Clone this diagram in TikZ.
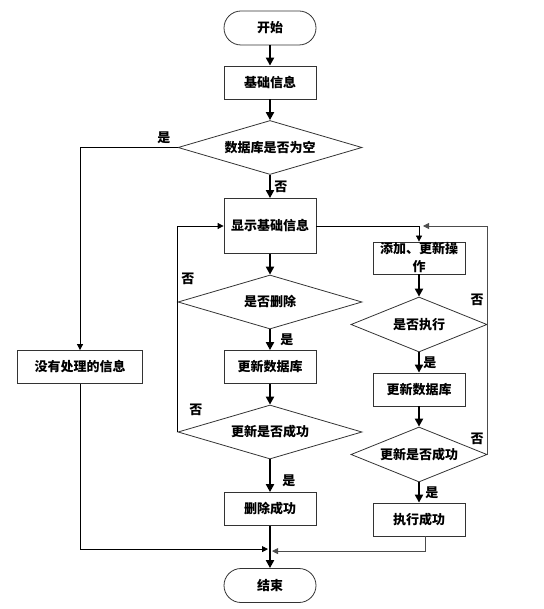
\documentclass[tikz,border=0pt]{standalone}
\usepackage{fontspec}
\newfontfamily\cjk{Noto Sans CJK SC}
\usetikzlibrary{arrows.meta,shapes.geometric}

\begin{document}
\begin{tikzpicture}[>={Triangle[length=8pt,width=8pt]}, node distance=65pt, font=\cjk\bfseries\fontsize{13pt}{18pt}\selectfont]
		\tikzstyle{term} = [draw=black!80, line width=0.8pt, rounded corners=17pt, minimum width=92pt, minimum height=34pt, inner sep=0pt]
		\tikzstyle{proc} = [draw=black!80, line width=0.8pt, minimum width=92pt, minimum height=33pt, inner sep=0pt]
		\tikzstyle{decide} = [draw=black!80, line width=0.8pt, diamond, aspect=3.4, minimum width=184pt, minimum height=54pt, inner sep=0pt]
		\tikzstyle{flow} = [->, line width=2.2pt]
		\tikzstyle{back} = [-{Triangle[length=6pt,width=6pt]}, line width=0.8pt]

		\useasboundingbox (0,0) rectangle (543pt,-609pt);

		\path
		node[term] (start) at (270pt,-28pt) {开始}
		node[proc, below of=start, yshift=10.5pt] (base) {基础信息}
		node[decide, below of=base] (empty) {数据库是否为空}
		node[proc, minimum height=55pt, below of=empty, yshift=-13.5pt] (show) {显示基础信息}
		node[decide, below of=show, yshift=-11pt] (askdel) {是否删除}
		node[proc, below of=askdel] (upd) {更新数据库}
		node[decide, below of=upd] (updok) {更新是否成功}
		node[proc, below of=updok, yshift=-12pt] (delok) {删除成功}
		node[term, below of=delok, yshift=-11.5pt] (stop) {结束}
		node[proc, minimum width=125pt, left of=upd, xshift=-125pt] (none) {没有处理的信息}
		node[proc, minimum height=32pt, align=center, right of=show, xshift=84pt, yshift=-32pt] (edit) {添加、更新操\\作}
		node[decide, minimum width=136pt, minimum height=55pt, below of=edit, yshift=-1.5pt] (exec) {是否执行}
		node[proc, below of=exec] (upd2) {更新数据库}
		node[decide, minimum width=136pt, minimum height=55pt, below of=upd2] (updok2) {更新是否成功}
		node[proc, below of=updok2] (execok) {执行成功}
		;

		\coordinate (joinl) at ([xshift=-2pt,yshift=19pt]stop.north);
		\coordinate (joinr) at ([xshift=2pt,yshift=17pt]stop.north);

		% main column
		\draw[flow] (start) -- (base);
		\draw[flow] (base) -- (empty);
		\draw[flow] (empty) -- node[right]{否} (show);
		\draw[flow] (show) -- (askdel);
		\draw[flow] (askdel) -- node[right, xshift=6pt]{是} (upd);
		\draw[flow] (upd) -- (updok);
		\draw[flow] (updok) -- node[right, xshift=8pt, pos=0.65]{是} (delok);
		\draw[flow] (delok) -- (stop);

		% right column
		\draw[flow] (edit) -- (exec);
		\draw[flow] (exec) -- node[right]{是} (upd2);
		\draw[flow] (upd2) -- (updok2);
		\draw[flow] (updok2) -- node[right, xshift=2pt]{是} (execok);

		% loops
		\draw[back] (show.east) -| (edit.north);
		\draw[back, black!70] (exec.east) -- node[left, pos=0.25, black]{否} (exec.east |- show.east) -- ([xshift=4pt]edit.north |- show.east);
		\draw[line width=0.8pt, black!70] (updok2.east) -- node[left, pos=0.12, black]{否} (exec.east);
		\draw[back] (askdel.west) |- node[right, pos=0.15]{否} (show.west);
		\draw[line width=0.8pt] (updok.west) -- node[right, pos=0.17, xshift=8pt]{否} (askdel.west);
		\draw[back] (empty.west) -| node[above, pos=0.07]{是} (none.north);
		\draw[back] (none.south) |- (joinl);
		\draw[back, black!70] ([xshift=6pt]execok.south) |- (joinr);
\end{tikzpicture}
\end{document}
